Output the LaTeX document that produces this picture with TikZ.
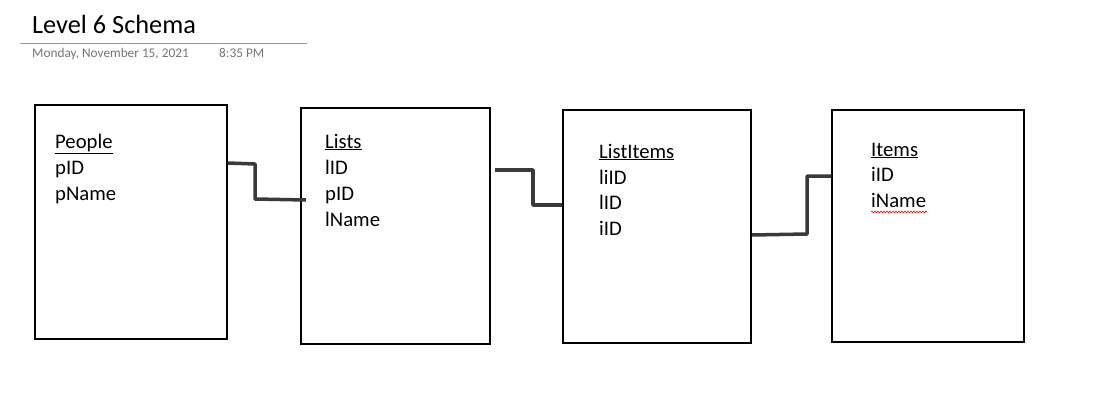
\documentclass[tikz,border=0pt]{standalone}
\usepackage{fontspec}
\setmainfont{Carlito}
\usepackage{xcolor}
\usetikzlibrary{decorations.pathmorphing}

\definecolor{linkgray}{RGB}{58,58,58}
\definecolor{dategray}{RGB}{118,118,118}

\tikzset{
  tbl/.style={draw=black, line width=1.5pt, inner sep=0pt},
  field/.style={anchor=base west, inner sep=0pt, font=\fontsize{20.7}{26}\selectfont},
  stamp/.style={anchor=base west, inner sep=0pt, text=dategray, font=\fontsize{13.3}{15}\selectfont},
  link/.style={linkgray, line width=3.5pt, line join=round}
}

\begin{document}
\begin{tikzpicture}[x=1pt, y=-1pt]
        \useasboundingbox[fill=white] (0,0) rectangle (1108,415);

        % header
        \node[anchor=base west, inner sep=0pt, font=\fontsize{26.3}{30}\selectfont] (title) at (32,33) {Level 6 Schema};
        \draw[gray!80, line width=0.8pt] (20,43) -- (307,43);
        \node[stamp] (date) at (32,57) {Monday, November 15, 2021};
        \node[stamp] (time) at (219,57) {8:35 PM};

        % tables
        \node[tbl, minimum width=192pt, minimum height=234pt] (people) at (131,222) {};
        \node[tbl, minimum width=189pt, minimum height=236pt] (lists) at (395.5,226) {};
        \node[tbl, minimum width=188pt, minimum height=233pt] (listitems) at (657,226.5) {};
        \node[tbl, minimum width=192pt, minimum height=232pt] (items) at (928,226) {};

        \node[field] (peopleT) at (55,148) {\underline{People}};
        \node[field] (peopleA) at (55,174) {pID};
        \node[field] (peopleB) at (55,200) {pName};

        \node[field] (listsT) at (325,148) {\underline{Lists}};
        \node[field] (listsA) at (325,174) {lID};
        \node[field] (listsB) at (325,200) {pID};
        \node[field] (listsC) at (325,226) {lName};

        \node[field] (listitemsT) at (599,158) {\underline{ListItems}};
        \node[field] (listitemsA) at (599,184) {liID};
        \node[field] (listitemsB) at (599,209) {lID};
        \node[field] (listitemsC) at (599,235) {iID};

        \node[field] (itemsT) at (871,156) {\underline{Items}};
        \node[field] (itemsA) at (871,181) {iID};
        \node[field] (itemsB) at (871,207) {iName};
        \draw[red, line width=0.6pt, decorate, decoration={snake, amplitude=0.9pt, segment length=3pt}]
            (itemsB.base west) ++(0,5) -- ++(56,0);

        % links
        \draw[link] (people.east |- 0,163) -- (255,164) -- (255,199) -- (306,200);
        \draw[link] (495,170) -- (533,170) -- (533,205) -- (listitems.west |- 0,205);
        \draw[link] (listitems.east |- 0,235) -- (807,234) -- (807,176) -- (items.west |- 0,176);
    \end{tikzpicture}
\end{document}
